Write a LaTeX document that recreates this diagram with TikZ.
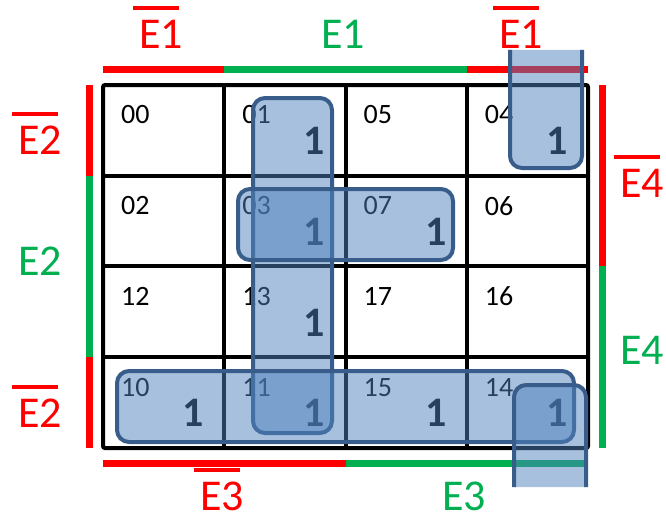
\documentclass[tikz,border=0pt]{standalone}
\usepackage{fontspec}
\setmainfont{Carlito}
\usepackage{tikz}
\usetikzlibrary{calc,positioning}
\definecolor{kred}{HTML}{FF0000}
\definecolor{kgreen}{HTML}{00B050}
\definecolor{loopfill}{HTML}{4F81BD}
\definecolor{loopline}{HTML}{385D8A}

\begin{document}
\begin{tikzpicture}[x=1pt, y=-1pt, every node/.style={inner sep=0pt},
        gridline/.style={line width=4pt, black},
        bar/.style={line width=7pt},
        ovl/.style={line width=4pt},
        varlbl/.style={font=\fontsize{44}{50}\selectfont},
        cellnum/.style={font=\fontsize{28}{34}\selectfont, anchor=west},
        one/.style={font=\fontsize{42}{50}\selectfont\bfseries},
        group/.style={draw=loopline, line width=4pt, fill=loopfill, fill opacity=0.5, rounded corners=12pt}]
                \useasboundingbox (0,0) rectangle (666,519);

                % coloured bars round the map
                \draw[bar, kred]   (103,69) -- (224,69);
                \draw[bar, kgreen] (224,69) -- (467,69);
                \draw[bar, kred]   (467,69) -- (588,69);
                \draw[bar, kred]   (89,85) -- (89,176);
                \draw[bar, kgreen] (89,176) -- (89,357);
                \draw[bar, kred]   (89,357) -- (89,448);
                \draw[bar, kred]   (602,85) -- (602,266);
                \draw[bar, kgreen] (602,266) -- (602,448);
                \draw[bar, kred]   (103,463) -- (346,463);
                \draw[bar, kgreen] (346,463) -- (588,463);

                % variable labels
                \node[varlbl, kred]   (e1a) at (161,34)  {E1};
                \node[varlbl, kgreen] (e1b) at (343,34)  {E1};
                \node[varlbl, kred]   (e1c) at (521,34)  {E1};
                \node[varlbl, kred]   (e2a) at (40,140)  {E2};
                \node[varlbl, kgreen] (e2b) at (40,261)  {E2};
                \node[varlbl, kred]   (e2c) at (40,413)  {E2};
                \node[varlbl, kred]   (e4a) at (642,183) {E4};
                \node[varlbl, kgreen] (e4b) at (642,350) {E4};
                \node[varlbl, kred]   (e3a) at (222,496) {E3};
                \node[varlbl, kgreen] (e3b) at (464,496) {E3};
                \foreach \n in {e1a,e1c,e2a,e2c,e4a,e3a}
                    \draw[ovl, kred] ([xshift=-6pt, yshift=11.5pt]\n.north west) -- ([xshift=-4pt, yshift=11.5pt]\n.north east);

                % the grid
                \foreach \x in {224,346,467}
                    \draw[gridline] (\x,85) -- (\x,448);
                \foreach \y in {176,266,357}
                    \draw[gridline] (103,\y) -- (588,\y);
                \draw[gridline, rounded corners=2pt] (103,85) rectangle (588,448);

                % cell numbers and ones
                \foreach \lab/\c/\r in {00/0/0, 01/1/0, 05/2/0, 04/3/0, 02/0/1, 03/1/1, 07/2/1, 06/3/1,
                                        12/0/2, 13/1/2, 17/2/2, 16/3/2, 10/0/3, 11/1/3, 15/2/3, 14/3/3}
                    \node[cellnum] (n\lab) at ({103+121.25*\c+18}, {85+90.75*\r+30}) {\lab};
                \foreach \lab/\c/\r in {01/1/0, 04/3/0, 03/1/1, 07/2/1, 13/1/2, 10/0/3, 11/1/3, 15/2/3, 14/3/3}
                    \node[one] (o\lab) at ({103+121.25*(\c+1)-31}, {85+90.75*\r+56}) {1};

                % groups
                \draw[group] (253,98) rectangle (332,433);
                \draw[group] (238,189) rectangle (453,260);
                \draw[group] (117,371) rectangle (574,442);
                \draw[group] (510,50) -- (510,168) -- (582,168) -- (582,50);
                \draw[group] (514,487) -- (514,385) -- (586,385) -- (586,487);
            \end{tikzpicture}
\end{document}
